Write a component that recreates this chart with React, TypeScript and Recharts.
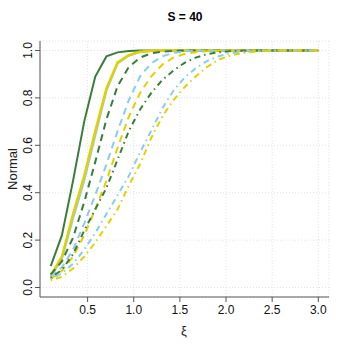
import React from 'react'
import { LineChart, Line, XAxis, YAxis, CartesianGrid } from 'recharts'

// xi grid (25 points from 0.1 to 3.0)
const xi = [
  0.1, 0.221, 0.342, 0.463, 0.583, 0.704, 0.825, 0.946, 1.067, 1.188, 1.308, 1.429, 1.55,
  1.671, 1.792, 1.913, 2.033, 2.154, 2.275, 2.396, 2.517, 2.638, 2.758, 2.879, 3.0
]

const greenSolid = [0.09, 0.22, 0.45, 0.7, 0.89, 0.975, 0.992, 0.998, 1, 1, 1, 1, 1, 1, 1, 1, 1, 1, 1, 1, 1, 1, 1, 1, 1]
const blueSolid = [0.045, 0.12, 0.29, 0.45, 0.64, 0.83, 0.945, 0.978, 0.993, 0.998, 1, 1, 1, 1, 1, 1, 1, 1, 1, 1, 1, 1, 1, 1, 1]
const yellowSolid = [0.05, 0.13, 0.31, 0.47, 0.66, 0.84, 0.95, 0.98, 0.995, 0.999, 1, 1, 1, 1, 1, 1, 1, 1, 1, 1, 1, 1, 1, 1, 1]

const greenDashed = [0.055, 0.11, 0.21, 0.36, 0.53, 0.71, 0.85, 0.93, 0.97, 0.988, 0.995, 0.998, 1, 1, 1, 1, 1, 1, 1, 1, 1, 1, 1, 1, 1]
const blueDashed = [0.045, 0.085, 0.16, 0.27, 0.39, 0.52, 0.66, 0.79, 0.89, 0.945, 0.975, 0.99, 0.996, 0.999, 1, 1, 1, 1, 1, 1, 1, 1, 1, 1, 1]
const yellowDashed = [0.035, 0.07, 0.13, 0.22, 0.33, 0.45, 0.59, 0.72, 0.82, 0.89, 0.94, 0.97, 0.985, 0.993, 0.997, 0.999, 1, 1, 1, 1, 1, 1, 1, 1, 1]

const greenDotDash = [0.04, 0.075, 0.14, 0.24, 0.33, 0.42, 0.54, 0.66, 0.75, 0.82, 0.875, 0.915, 0.948, 0.97, 0.984, 0.992, 0.997, 0.999, 1, 1, 1, 1, 1, 1, 1]
const blueDotDash = [0.035, 0.06, 0.1, 0.16, 0.23, 0.31, 0.39, 0.47, 0.57, 0.66, 0.755, 0.83, 0.885, 0.925, 0.955, 0.975, 0.987, 0.994, 0.997, 0.999, 1, 1, 1, 1, 1]
const yellowDotDash = [0.03, 0.045, 0.08, 0.13, 0.19, 0.26, 0.33, 0.43, 0.52, 0.63, 0.72, 0.79, 0.845, 0.89, 0.93, 0.96, 0.977, 0.988, 0.994, 0.997, 0.999, 1, 1, 1, 1]

const xTicks = [0.5, 1.0, 1.5, 2.0, 2.5, 3.0]
const yTicks = [0, 0.2, 0.4, 0.6, 0.8, 1.0]

const GREEN = '#3a7d3a'
const BLUE = '#8ccbef'
const YELLOW = '#e2d100'
const DASH = '7 5'
const DOTDASH = '1.5 4 6 4'

const data = xi.map((x, i) => ({
  x,
  gs: greenSolid[i],
  bs: blueSolid[i],
  ys: yellowSolid[i],
  gd: greenDashed[i],
  bd: blueDashed[i],
  yd: yellowDashed[i],
  gdd: greenDotDash[i],
  bdd: blueDotDash[i],
  ydd: yellowDotDash[i]
}))

const font = '"Liberation Sans", Arial, sans-serif'

const YTick = (props: any) => {
  const { y, payload } = props
  return (
    <text
      x={35}
      y={y}
      transform={`rotate(-90, 35, ${y})`}
      textAnchor="middle"
      fontSize={12}
      fill="#111"
      fontFamily={font}
      dy={-3}
    >
      {payload.value.toFixed(1)}
    </text>
  )
}

const XTick = (props: any) => {
  const { x, y, payload } = props
  return (
    <text x={x} y={y} textAnchor="middle" fontSize={12} fill="#111" fontFamily={font} dy={10}>
      {payload.value.toFixed(1)}
    </text>
  )
}

const series = [
  { key: 'gs', color: GREEN, dash: undefined, width: 2 },
  { key: 'bs', color: BLUE, dash: undefined, width: 2 },
  { key: 'ys', color: YELLOW, dash: undefined, width: 2.5 },
  { key: 'gd', color: GREEN, dash: DASH, width: 2 },
  { key: 'bd', color: BLUE, dash: DASH, width: 2 },
  { key: 'yd', color: YELLOW, dash: DASH, width: 2 },
  { key: 'gdd', color: GREEN, dash: DOTDASH, width: 2 },
  { key: 'bdd', color: BLUE, dash: DOTDASH, width: 2 },
  { key: 'ydd', color: YELLOW, dash: DOTDASH, width: 2 }
]

export default function App() {
  return (
    <div style={{ position: 'absolute', left: 0, top: 0, width: 349, height: 349, background: '#fff' }}>
      <LineChart width={349} height={349} data={data} margin={{ top: 41, right: 20, bottom: 27, left: 10 }}>
        <CartesianGrid xAxisId="b" yAxisId="l" stroke="#e2e2e2" strokeDasharray="1 2" />
        <XAxis
          xAxisId="b"
          dataKey="x"
          type="number"
          domain={[-0.016, 3.116]}
          ticks={xTicks}
          height={25}
          tickSize={5}
          tickMargin={2}
          stroke="#555"
          tick={<XTick />}
          allowDataOverflow
        />
        <XAxis xAxisId="t" orientation="top" dataKey="x" type="number" domain={[-0.016, 3.116]} height={0} tick={false} tickLine={false} stroke="#555" />
        <YAxis
          yAxisId="l"
          type="number"
          domain={[-0.04, 1.04]}
          ticks={yTicks}
          width={30}
          tickSize={5}
          stroke="#555"
          tick={<YTick />}
          allowDataOverflow
        />
        <YAxis yAxisId="r" orientation="right" type="number" domain={[-0.04, 1.04]} width={0} tick={false} tickLine={false} stroke="#555" />
        {series.map(s => (
          <Line
            key={s.key}
            xAxisId="b"
            yAxisId="l"
            dataKey={s.key}
            type="linear"
            stroke={s.color}
            strokeWidth={s.width}
            strokeDasharray={s.dash}
            dot={false}
            activeDot={false}
            isAnimationActive={false}
          />
        ))}
        <text x={185} y={21} textAnchor="middle" fontSize={12} fontWeight="bold" fontFamily={font} fill="#000">
          S = 40
        </text>
        <text x={184} y={335} textAnchor="middle" fontSize={13} fontFamily={font} fill="#222">
          ξ
        </text>
        <text x={17} y={169} textAnchor="middle" fontSize={13} fontFamily={font} fill="#222" transform="rotate(-90, 17, 169)">
          Normal
        </text>
      </LineChart>
    </div>
  )
}
